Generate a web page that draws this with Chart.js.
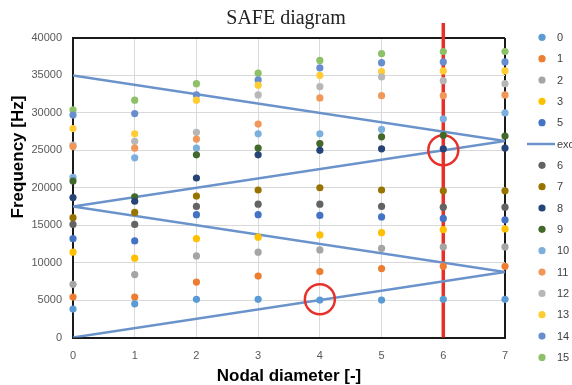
<!DOCTYPE html>
<html><head><meta charset="utf-8">
<script src="https://cdn.jsdelivr.net/npm/chart.js@4/dist/chart.umd.min.js"></script>
<style>html,body{margin:0;padding:0;background:#fff;}#wrap{width:572px;height:385px;}</style>
</head><body><div id="wrap"><canvas id="c" width="572" height="385"></canvas></div>
<script>
// ---- data ----
const nodalDiameters = [0, 1, 2, 3, 4, 5, 6, 7];
const yTickValues = [0, 5000, 10000, 15000, 20000, 25000, 30000, 35000, 40000];
const xTickValues = [0, 1, 2, 3, 4, 5, 6, 7];

const mode0  = [3800, 4500, 5100, 5100, 5000, 5000, 5100, 5100];
const mode1  = [5400, 5400, 7400, 8200, 8800, 9200, 9500, 9500];
const mode2  = [7100, 8400, 10900, 11400, 11700, 11900, 12100, 12100];
const mode3  = [11400, 10600, 13200, 13400, 13700, 14000, 14400, 14500];
const mode5  = [13200, 12900, 16400, 16400, 16300, 16100, 15900, 15700];
const mode6  = [15100, 15100, 17500, 17800, 17800, 17500, 17400, 17400];
const mode7  = [16000, 16700, 18900, 19700, 20000, 19700, 19600, 19600];
const mode8  = [18700, 18200, 21300, 24400, 25000, 25200, 25200, 25300];
const mode9  = [20900, 18800, 24400, 25300, 25900, 26800, 27000, 26900];
const mode10 = [21400, 24000, 25300, 27200, 27200, 27800, 29200, 30000];
const mode11 = [25500, 25300, 26500, 28500, 32000, 32300, 32300, 32400];
const mode12 = [25700, 26200, 27400, 32400, 33500, 34800, 34300, 33900];
const mode13 = [27900, 27200, 31700, 33700, 35000, 35500, 35600, 35600];
const mode14 = [29700, 29900, 32400, 34400, 36000, 36700, 36800, 36800];
const mode15 = [30400, 31700, 33900, 35300, 37000, 37900, 38200, 38200];

const excX = [0, 7, 0, 7, 0];
const excY = [0, 8750, 17500, 26250, 35000];

const markerLineX = [6, 6];
const markerLineY = [0, 42000];
const circledX = [6, 4];
const circledY = [25000, 5100];

const seriesNames = ['0','1','2','3','5','6','7','8','9','10','11','12','13','14','15'];
const seriesValues = [mode0, mode1, mode2, mode3, mode5, mode6, mode7, mode8, mode9, mode10, mode11, mode12, mode13, mode14, mode15];
const legendOrder = ['0','1','2','3','5','excitation','6','7','8','9','10','11','12','13','14','15'];

// ---- styles ----
const seriesColors = ['#5B9BD5','#ED7D31','#A5A5A5','#FFC000','#4472C4','#636363','#997300','#264478','#43682B','#7CAFDD','#F1975A','#B7B7B7','#FFCD33','#698ED0','#8CC168'];
const excColor = '#6B93CB';
const redColor = '#E8302A';

const datasets = seriesNames.map((name, i) => ({
  label: name,
  data: nodalDiameters.map((x, j) => ({x: x, y: seriesValues[i][j]})),
  backgroundColor: seriesColors[i],
  borderColor: seriesColors[i],
  borderWidth: 0,
  pointRadius: 3.6,
  pointHoverRadius: 3.6,
  showLine: false,
  clip: false,
  order: 0
}));
datasets.push({
  label: 'circles',
  data: circledX.map((x, j) => ({x: x, y: circledY[j]})),
  backgroundColor: 'rgba(0,0,0,0)',
  borderColor: redColor,
  borderWidth: 2.5,
  pointRadius: 15,
  showLine: false,
  clip: false,
  order: 1
});
datasets.push({
  label: 'excitation',
  data: excX.map((x, j) => ({x: x, y: excY[j]})),
  borderColor: excColor,
  backgroundColor: excColor,
  borderWidth: 2.5,
  pointRadius: 0,
  showLine: true,
  tension: 0,
  order: 2
});
datasets.push({
  label: 'marker',
  data: markerLineX.map((x, j) => ({x: x, y: markerLineY[j]})),
  borderColor: redColor,
  backgroundColor: redColor,
  borderWidth: 3.5,
  pointRadius: 0,
  showLine: true,
  clip: false,
  order: 3
});

const legendPlugin = {
  id: 'customLegend',
  afterDraw(chart) {
    const ctx = chart.ctx;
    ctx.save();
    ctx.font = '11px "Liberation Sans", Arial, sans-serif';
    ctx.textBaseline = 'middle';
    ctx.textAlign = 'left';
    legendOrder.forEach((name, i) => {
      const y = 37.3 + i * 21.34;
      if (name === 'excitation') {
        ctx.strokeStyle = excColor;
        ctx.lineWidth = 2.5;
        ctx.beginPath(); ctx.moveTo(527, y); ctx.lineTo(555, y); ctx.stroke();
      } else {
        const idx = seriesNames.indexOf(name);
        ctx.fillStyle = seriesColors[idx];
        ctx.beginPath(); ctx.arc(542, y, 3.6, 0, Math.PI * 2); ctx.fill();
      }
      ctx.fillStyle = '#404040';
      ctx.fillText(name, 557, y + 0.5);
    });
    // y axis title
    ctx.font = 'bold 17px "Liberation Sans", Arial, sans-serif';
    ctx.fillStyle = '#000';
    ctx.textAlign = 'center';
    ctx.translate(18, 157);
    ctx.rotate(-Math.PI / 2);
    ctx.fillText('Frequency [Hz]', 0, 0);
    ctx.restore();
  }
};

new Chart(document.getElementById('c'), {
  type: 'scatter',
  data: { datasets: datasets },
  options: {
    responsive: false,
    devicePixelRatio: 1,
    animation: false,
    events: [],
    layout: { padding: 0 },
    plugins: {
      legend: { display: false },
      tooltip: { enabled: false },
      title: {
        display: true,
        text: 'SAFE diagram',
        color: '#222',
        font: { family: '"Liberation Serif", "Times New Roman", serif', size: 20, weight: 'normal', lineHeight: 1.2 },
        padding: { top: 7, bottom: 7 }
      }
    },
    scales: {
      x: {
        type: 'linear', position: 'bottom', min: 0, max: 7,
        afterBuildTicks: s => { s.ticks = xTickValues.map(v => ({value: v})); },
        afterFit: s => { s.height = 47.5; },
        grid: {
          drawTicks: false,
          color: c => (c.tick && c.tick.value === 7) ? '#1a1a1a' : '#D9D9D9',
          lineWidth: c => (c.tick && c.tick.value === 7) ? 2 : 1
        },
        border: { color: '#1a1a1a', width: 2 },
        ticks: { color: '#595959', padding: 12, callback: v => String(v), font: { family: '"Liberation Sans", Arial, sans-serif', size: 11 } },
        title: {
          display: true, text: 'Nodal diameter [-]', color: '#000',
          font: { family: '"Liberation Sans", Arial, sans-serif', size: 17, weight: 'bold', lineHeight: 1 },
          padding: { top: 0, bottom: 0.5 }
        }
      },
      y: {
        type: 'linear', position: 'left', min: 0, max: 40000,
        afterBuildTicks: s => { s.ticks = yTickValues.map(v => ({value: v})); },
        afterFit: s => { s.width = 73; },
        grid: {
          drawTicks: false,
          color: c => (c.tick && c.tick.value === 40000) ? '#1a1a1a' : '#D9D9D9',
          lineWidth: c => (c.tick && c.tick.value === 40000) ? 2 : 1
        },
        border: { color: '#1a1a1a', width: 2 },
        ticks: { color: '#595959', padding: 11, callback: v => String(v), font: { family: '"Liberation Sans", Arial, sans-serif', size: 11 } }
      },
      yR: {
        type: 'linear', position: 'right', display: true,
        afterFit: s => { s.width = 67; },
        grid: { display: false, drawTicks: false },
        border: { display: false },
        ticks: { display: false }
      }
    }
  },
  plugins: [legendPlugin]
});
</script>
</body></html>
